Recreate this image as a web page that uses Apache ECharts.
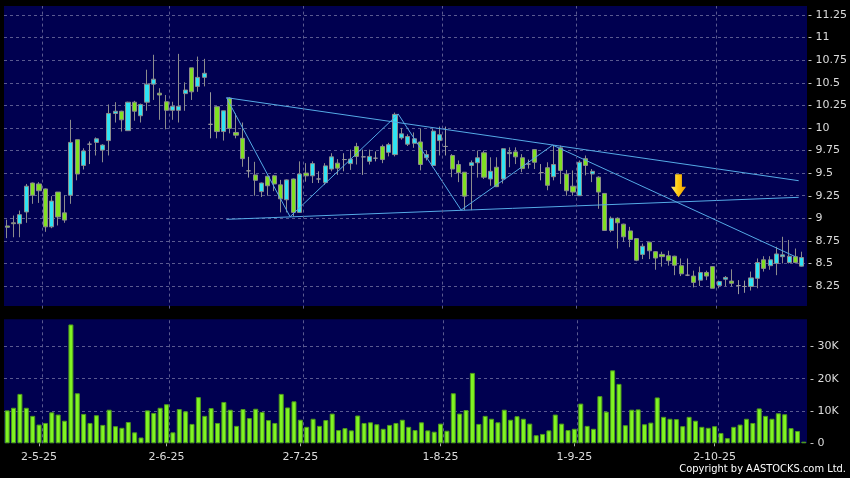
<!DOCTYPE html>
<html>
<head>
<meta charset="utf-8">
<script src="https://cdn.jsdelivr.net/npm/echarts@6/dist/echarts.min.js"></script>
<style>
html,body{margin:0;padding:0;background:#000;}
#c{width:850px;height:478px;}
</style>
</head>
<body>
<div id="c"></div>
<script>
// ---- data ----
const dates = ['24-4-25','25-4-25','28-4-25','29-4-25','30-4-25','2-5-25','6-5-25','7-5-25','8-5-25','9-5-25',
'12-5-25','13-5-25','14-5-25','15-5-25','16-5-25','19-5-25','20-5-25','21-5-25','22-5-25','23-5-25',
'26-5-25','27-5-25','28-5-25','29-5-25','30-5-25','2-6-25','3-6-25','4-6-25','5-6-25','6-6-25',
'9-6-25','10-6-25','11-6-25','12-6-25','13-6-25','16-6-25','17-6-25','18-6-25','19-6-25','20-6-25',
'23-6-25','24-6-25','25-6-25','26-6-25','27-6-25','30-6-25','2-7-25','3-7-25','4-7-25','7-7-25',
'8-7-25','9-7-25','10-7-25','11-7-25','14-7-25','15-7-25','16-7-25','17-7-25','18-7-25','21-7-25',
'22-7-25','23-7-25','24-7-25','25-7-25','28-7-25','29-7-25','30-7-25','31-7-25','1-8-25','4-8-25',
'5-8-25','6-8-25','7-8-25','8-8-25','11-8-25','12-8-25','13-8-25','14-8-25','15-8-25','18-8-25',
'19-8-25','20-8-25','21-8-25','22-8-25','25-8-25','26-8-25','27-8-25','28-8-25','29-8-25','1-9-25',
'2-9-25','3-9-25','4-9-25','5-9-25','8-9-25','9-9-25','10-9-25','11-9-25','12-9-25','15-9-25',
'16-9-25','17-9-25','18-9-25','19-9-25','22-9-25','23-9-25','24-9-25','25-9-25','26-9-25','29-9-25',
'30-9-25','2-10-25','3-10-25','6-10-25','8-10-25','9-10-25','10-10-25','13-10-25','14-10-25','15-10-25',
'16-10-25','17-10-25','20-10-25','21-10-25','22-10-25','23-10-25'];

const tickLabels = ['2-5-25','2-6-25','2-7-25','1-8-25','1-9-25','2-10-25'];

const open = [8.915,8.95,8.94,9.07,9.39,9.38,9.325,8.905,9.29,9.06,
9.255,9.87,9.585,9.82,9.84,9.755,9.86,10.16,10.185,9.97,
10.285,10.135,10.285,10.485,10.385,10.29,10.195,10.195,10.38,10.665,
10.46,10.56,10.04,10.235,9.96,10.33,9.95,9.885,9.525,9.48,
9.295,9.465,9.47,9.37,9.205,9.435,9.065,9.50,9.47,9.435,
9.395,9.545,9.61,9.65,9.605,9.795,9.68,9.63,9.665,9.795,
9.73,9.705,9.89,9.82,9.83,9.845,9.67,9.585,9.86,9.795,
9.695,9.595,9.51,9.585,9.615,9.725,9.435,9.565,9.435,9.715,
9.735,9.67,9.60,9.76,9.505,9.56,9.46,9.78,9.49,9.355,
9.25,9.66,9.49,9.455,9.275,8.865,9.0,8.935,8.86,8.775,
8.60,8.735,8.63,8.60,8.585,8.58,8.475,8.37,8.36,8.315,
8.40,8.465,8.255,8.325,8.305,8.255,8.245,8.245,8.335,8.54,
8.475,8.50,8.575,8.51,8.575,8.47];

const close = [8.90,8.94,9.04,9.355,9.255,9.305,8.905,9.19,9.015,8.98,
9.84,9.49,9.745,9.82,9.88,9.81,10.16,10.185,10.09,10.285,
10.185,10.26,10.485,10.54,10.365,10.195,10.24,10.24,10.42,10.40,
10.56,10.605,10.04,9.96,10.19,9.995,9.92,9.66,9.525,9.42,
9.39,9.36,9.38,9.215,9.425,9.065,9.49,9.47,9.605,9.435,
9.58,9.68,9.555,9.65,9.655,9.685,9.68,9.685,9.665,9.65,
9.815,10.15,9.935,9.905,9.88,9.595,9.705,9.965,9.925,9.795,
9.545,9.505,9.245,9.615,9.67,9.455,9.52,9.35,9.77,9.73,
9.68,9.55,9.60,9.62,9.505,9.365,9.595,9.53,9.305,9.29,
9.62,9.585,9.52,9.29,8.865,9.0,8.95,8.795,8.765,8.535,
8.69,8.64,8.56,8.575,8.53,8.48,8.385,8.37,8.29,8.40,
8.36,8.225,8.30,8.345,8.28,8.255,8.245,8.34,8.51,8.445,
8.54,8.605,8.595,8.58,8.51,8.565];

const low = [8.78,8.79,8.79,8.95,9.16,9.17,8.85,8.89,8.92,8.95,
9.16,9.42,9.54,9.60,9.695,9.62,9.695,10.06,9.96,9.97,
10.08,10.06,10.19,10.31,10.09,9.985,10.09,10.06,10.19,10.31,
10.40,10.46,9.885,9.885,9.86,9.94,9.885,9.57,9.45,9.25,
9.235,9.25,9.30,9.065,9.065,9.02,9.06,9.405,9.39,9.39,
9.37,9.52,9.48,9.52,9.535,9.595,9.48,9.595,9.63,9.61,
9.685,9.685,9.87,9.80,9.78,9.53,9.64,9.565,9.695,9.695,
9.455,9.40,9.09,9.09,9.45,9.435,9.36,9.345,9.385,9.565,
9.60,9.51,9.55,9.545,9.42,9.31,9.42,9.38,9.25,9.25,
9.25,9.475,9.40,9.105,8.865,8.845,8.665,8.74,8.68,8.525,
8.548,8.548,8.43,8.465,8.475,8.37,8.36,8.36,8.235,8.25,
8.315,8.225,8.225,8.245,8.245,8.16,8.175,8.20,8.225,8.41,
8.43,8.37,8.50,8.50,8.50,8.465];

const high = [8.985,9.03,9.085,9.38,9.395,9.40,9.33,9.245,9.29,9.255,
10.09,9.87,9.775,9.85,9.895,9.82,10.26,10.285,10.19,10.29,
10.30,10.27,10.645,10.81,10.44,10.365,10.29,10.82,10.505,10.665,
10.79,10.765,10.395,10.24,10.19,10.34,10.16,10.06,9.68,9.625,
9.395,9.47,9.48,9.425,9.43,9.44,9.63,9.61,9.63,9.52,
9.61,9.72,9.655,9.72,9.76,9.835,9.76,9.76,9.74,9.815,
9.835,10.17,10.0,9.93,9.95,9.99,9.75,9.99,10.015,10.015,
9.71,9.64,9.51,9.64,9.75,9.75,9.675,9.675,9.775,9.785,
9.785,9.71,9.65,9.765,9.60,9.62,9.805,9.805,9.535,9.53,
9.64,9.695,9.545,9.465,9.28,9.02,9.01,8.94,8.905,8.78,
8.72,8.74,8.635,8.63,8.64,8.585,8.555,8.555,8.42,8.465,
8.42,8.47,8.31,8.36,8.435,8.315,8.31,8.41,8.555,8.58,
8.58,8.685,8.795,8.76,8.665,8.63];

// volume in thousands of shares
const volumeK = [10.2,11.0,15.3,11.0,8.5,5.8,6.3,9.6,8.9,7.0,
36.8,15.5,9.1,6.3,8.7,5.7,10.4,5.3,4.8,6.6,
3.4,1.8,10.2,9.4,11.0,12.1,3.4,10.6,9.9,6.0,
14.3,8.5,10.9,6.3,12.8,10.4,5.4,10.6,7.8,10.7,
9.7,7.2,6.3,15.3,11.1,13.0,7.3,5.1,7.6,5.4,
7.2,9.2,4.1,4.7,4.0,8.6,6.3,6.5,5.9,4.5,
5.7,6.3,7.3,5.1,4.1,6.5,4.0,3.6,6.1,3.9,
15.5,9.2,10.3,21.8,6.0,8.5,7.6,6.5,10.4,7.3,
8.4,7.6,6.1,2.5,2.9,4.0,8.9,6.1,4.1,4.5,
12.3,5.4,4.5,14.6,9.8,22.6,18.4,5.6,10.4,10.5,
5.9,6.4,14.2,8.2,7.6,7.5,5.3,8.2,7.0,5.1,
4.8,5.3,3.2,1.6,5.1,5.8,7.6,6.3,10.8,8.5,
7.6,9.3,9.0,4.7,3.8,0.5];

// trend lines: [candle position, price]
const upperLine = [[34.5, 10.335], [124.5, 9.416]];
const lowerLine = [[34.5, 8.988], [124.5, 9.232]];
const zigzag = [[34.5, 10.335], [44.5, 9.017], [61.5, 10.154], [71.4, 9.091], [85.8, 9.81], [124.0, 8.574]];
const arrowMark = [[105.6, 9.36]];

// ---- chart ----
const N = dates.length;
const candles = dates.map((d, i) => [open[i], close[i], low[i], high[i]]);
const labelSet = new Set(tickLabels);
const gridLinePos = [];
dates.forEach((d, i) => { if (labelSet.has(d)) gridLinePos.push(i + 0.5); });

const GRID_COL = '#5a5a90';
const TXT = '#dcdcdc';
const FONT = 'DejaVu Sans';

const chart = echarts.init(document.getElementById('c'), null, {renderer: 'canvas'});
const option = {
  backgroundColor: '#000000',
  animation: false,
  grid: [
    {left: 4, right: 43, top: 6, height: 302.6},
    {left: 4, right: 43, top: 319.3, height: 124, show: true, backgroundColor: '#000050', borderWidth: 0}
  ],
  graphic: [
    {type: 'rect', z: -10, silent: true, shape: {x: 4, y: 6, width: 803, height: 300}, style: {fill: '#000050'}},
    {type: 'text', right: 4, top: 464, silent: true,
     style: {text: 'Copyright by AASTOCKS.com Ltd.', fill: '#ffffff', font: '11px "DejaVu Sans Condensed", "DejaVu Sans"'}}
  ],
  xAxis: [
    {type: 'category', gridIndex: 0, data: dates, boundaryGap: true,
     axisLine: {show: false}, axisTick: {show: false}, axisLabel: {show: false}, splitLine: {show: false}},
    {type: 'category', gridIndex: 1, data: dates, boundaryGap: true, offset: 3,
     axisLine: {show: false},
     axisTick: {show: true, length: 3, alignWithLabel: true, interval: (i, v) => labelSet.has(v), lineStyle: {color: '#aaaaaa'}},
     axisLabel: {show: true, interval: (i, v) => labelSet.has(v), margin: 5, color: TXT, fontFamily: FONT, fontSize: 11},
     splitLine: {show: false}},
    {type: 'value', gridIndex: 0, min: -0.5, max: N - 0.5, show: false},
    {type: 'value', gridIndex: 1, min: -0.5, max: N - 0.5, show: false}
  ],
  yAxis: [
    {type: 'value', gridIndex: 0, position: 'right', min: 8, max: 11.35, interval: 0.25,
     axisLine: {show: false}, axisTick: {show: false},
     axisLabel: {margin: 3, color: TXT, fontFamily: FONT, fontSize: 11, showMinLabel: false, showMaxLabel: false,
       formatter: v => (v < 8.1 || v > 11.3) ? '' : '- ' + v},
     splitLine: {show: true, showMinLine: false, showMaxLine: false, lineStyle: {color: GRID_COL, type: [3, 3], width: 1}}},
    {type: 'value', gridIndex: 1, position: 'right', min: 0, max: 38.4, interval: 10,
     axisLine: {show: false}, axisTick: {show: false},
     axisLabel: {margin: 3, color: TXT, fontFamily: FONT, fontSize: 11, showMaxLabel: false,
       formatter: v => v === 0 ? '- 0' : (v % 10 === 0 ? '- ' + v + 'K' : '')},
     splitLine: {show: true, showMinLine: false, showMaxLine: false, lineStyle: {color: GRID_COL, type: [3, 3], width: 1}}}
  ],
  series: [
    {type: 'line', xAxisIndex: 2, yAxisIndex: 0, data: [], z: 1, silent: true,
     markLine: {silent: true, symbol: ['none', 'none'], label: {show: false},
       lineStyle: {color: GRID_COL, type: [3, 3], width: 1},
       data: gridLinePos.map(p => ({xAxis: p}))}},
    {type: 'line', xAxisIndex: 3, yAxisIndex: 1, data: [], z: 1, silent: true,
     markLine: {silent: true, symbol: ['none', 'none'], label: {show: false},
       lineStyle: {color: GRID_COL, type: [3, 3], width: 1},
       data: gridLinePos.map(p => ({xAxis: p}))}},
    {type: 'candlestick', xAxisIndex: 0, yAxisIndex: 0, data: candles, barWidth: 4.6, z: 3,
     itemStyle: {color: '#2ee4f4', color0: '#80e022', borderColor: '#8c8c8c', borderColor0: '#8c8c8c',
       borderColorDoji: '#9a9a9a', borderWidth: 1}},
    {type: 'line', xAxisIndex: 2, yAxisIndex: 0, data: upperLine, symbol: 'none', z: 4, silent: true,
     lineStyle: {color: '#55aae6', width: 1}},
    {type: 'line', xAxisIndex: 2, yAxisIndex: 0, data: lowerLine, symbol: 'none', z: 4, silent: true,
     lineStyle: {color: '#55aae6', width: 1}},
    {type: 'line', xAxisIndex: 2, yAxisIndex: 0, data: zigzag, symbol: 'none', z: 4, silent: true,
     lineStyle: {color: '#55aae6', width: 1}},
    {type: 'scatter', xAxisIndex: 2, yAxisIndex: 0, data: arrowMark, z: 5, silent: true,
     symbol: 'path://M4 0H10.6V12.5H14.6L7.3 23L0 12.5H4Z', symbolSize: [15, 23],
     itemStyle: {opacity: 1, color: new echarts.graphic.LinearGradient(0, 0, 1, 0, [
       {offset: 0, color: '#fff07a'}, {offset: 0.45, color: '#ffcc10'}, {offset: 1, color: '#f09a00'}])}},
    {type: 'bar', xAxisIndex: 1, yAxisIndex: 1, data: volumeK, barWidth: 5, z: 3,
     itemStyle: {color: '#80f423', borderColor: '#4e9a1c', borderWidth: 1}}
  ]
};
chart.setOption(option);
</script>
</body>
</html>
